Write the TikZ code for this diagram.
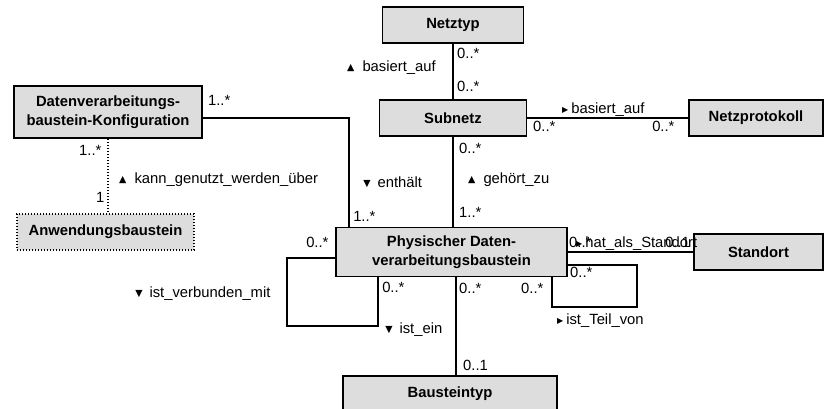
\documentclass[tikz,border=0pt]{standalone}
\usepackage{fontspec}
\setmainfont{Liberation Sans}
\newfontfamily\symfont{DejaVu Sans}
\usetikzlibrary{calc}
\definecolor{boxgray}{RGB}{221,221,221}
\newcommand{\dirup}{\raisebox{0.5pt}{\symfont\fontsize{9.5}{9.5}\selectfont ▲}\hspace{8pt}}
\newcommand{\dirdown}{\raisebox{0.5pt}{\symfont\fontsize{9.5}{9.5}\selectfont ▼}\hspace{7pt}}
\newcommand{\dirright}{\raisebox{0.5pt}{\symfont\fontsize{8}{8}\selectfont ▶}\hspace{3pt}}

\begin{document}
\begin{tikzpicture}[x=1pt,y=-1pt,
  cls/.style={draw,rectangle,line width=1.9pt,fill=boxgray,inner sep=0pt,align=center,font=\bfseries\fontsize{14.8}{18.5}\selectfont},
  lbl/.style={anchor=west,inner sep=0pt,text height=10.6pt,text depth=0pt,font=\fontsize{14.8}{18}\selectfont},
  conn/.style={line width=1.8pt},
  dots/.style={line width=1.3pt,dash pattern=on 1.4pt off 1.6pt}]
\useasboundingbox (0,0) rectangle (824,408);

\draw node [cls,minimum width=141,minimum height=36] (netztyp) at (453,25) {Netztyp};
\draw node [cls,minimum width=147,minimum height=36] (subnetz) at (453,118) {Subnetz};
\draw node [cls,minimum width=134,minimum height=36] (netzprotokoll) at (756,118) {Netzprotokoll};
\draw node [cls,minimum width=188,minimum height=52] (konfig) at (108,112) {Datenverarbeitungs-\\baustein-Konfiguration};
\draw node [cls,dots,minimum width=177,minimum height=36] (anwendung) at (105.5,232) {Anwendungsbaustein};
\draw node [cls,minimum width=231,minimum height=49] (physisch) at (451.5,252) {Physischer Daten-\\verarbeitungsbaustein};
\draw node [cls,minimum width=129,minimum height=36] (standort) at (758.5,252) {Standort};
\draw node [cls,minimum width=214,minimum height=36] (bausteintyp) at (450,394) {Bausteintyp};

\draw[conn] (netztyp.south) -- (netztyp.south |- subnetz.north);
\draw[conn] (subnetz.east) -- (netzprotokoll.west);
\draw[conn] (subnetz.south) -- (subnetz.south |- physisch.north);
\draw[conn] (konfig.east |- subnetz.east) -| ($(physisch.north west)+(14,0)$);
\draw[dots] (konfig.south) -- (konfig.south |- anwendung.north);
\draw[conn] (physisch.east) -- (standort.west);
\coordinate (typ) at ($(physisch.south)+(4.5,0)$);
\draw[conn] (typ) -- (typ |- bausteintyp.north);
\draw[conn] ($(physisch.west)+(0,6)$) -| ($(physisch.west)+(-48,74)$) -| ($(physisch.south west)+(43,0)$);
\draw[conn] ($(physisch.east)+(0,13)$) -| ($(physisch.east)+(69,55)$) -| ($(physisch.south east)+(-16,0)$);

\draw node [lbl] at ($(netztyp.south)+(4,9)$) {0..*};
\draw node [lbl] at ($(subnetz.north)+(4,-13)$) {0..*};
\draw node [lbl] at ($(netztyp.south)+(-106,22)$) {\dirup basiert\_auf};
\draw node [lbl] at ($(subnetz.east)+(34.5,-10)$) {\dirright basiert\_auf};
\draw node [lbl] at ($(subnetz.east)+(5.5,8)$) {0..*};
\draw node [lbl] at ($(netzprotokoll.west)+(-36,8)$) {0..*};
\draw node [lbl] at ($(konfig.east)+(5,-12)$) {1..*};
\draw node [lbl] at ($(konfig.south)+(-29,11)$) {1..*};
\draw node [lbl] at ($(anwendung.north)+(-9.5,-16)$) {1};
\draw node [lbl] at ($(konfig.south)+(11,39)$) {\dirup kann\_genutzt\_werden\_über};
\draw node [lbl] at ($(physisch.north west)+(28,-44.5)$) {\dirdown enthält};
\draw node [lbl] at ($(subnetz.south)+(6,11)$) {0..*};
\draw node [lbl] at ($(subnetz.south)+(15,41)$) {\dirup gehört\_zu};
\draw node [lbl] at ($(physisch.north)+(7.5,-14.5)$) {1..*};
\draw node [lbl] at ($(physisch.north west)+(18,-10.5)$) {1..*};
\draw node [lbl] at ($(physisch.north west)+(-29,15.5)$) {0..*};
\draw node [lbl] at ($(physisch.south west)+(47,9.5)$) {0..*};
\draw node [lbl] at ($(physisch.south)+(7.5,10.5)$) {0..*};
\draw node [lbl] at ($(physisch.south east)+(-47,10.5)$) {0..*};
\draw node [lbl] at ($(physisch.west)+(-200,40)$) {\dirdown ist\_verbunden\_mit};
\draw node [lbl] at ($(physisch.south west)+(50,50.5)$) {\dirdown ist\_ein};
\draw node [lbl] at ($(bausteintyp.north)+(13,-10)$) {0..1};
\draw node [lbl] at ($(physisch.south east)+(-11,41.5)$) {\dirright ist\_Teil\_von};
\draw node [lbl] at ($(physisch.east)+(2,20)$) {0..*};
\draw node [lbl] at ($(physisch.east)+(1,-10)$) {0..*};
\draw node [lbl] at ($(physisch.east)+(8,-10)$) {\dirright hat\_als\_Standort};
\draw node [lbl] at ($(standort.west)+(-28,-10)$) {0..1};

\end{tikzpicture}
\end{document}
